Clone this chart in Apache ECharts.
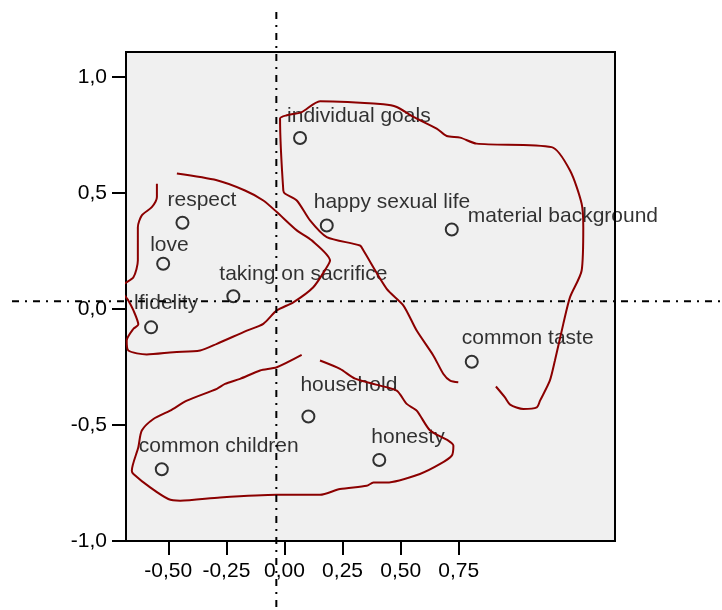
<!DOCTYPE html>
<html><head><meta charset="utf-8">
<script src="https://cdn.jsdelivr.net/npm/echarts@6/dist/echarts.min.js"></script>
<style>html,body{margin:0;padding:0;background:#fff}#c{width:722px;height:610px}</style>
</head><body><div id="c"></div>
<script>
// ---- data ----
const pointNames = ['individual goals','respect','love','taking on sacrifice','happy sexual life','material background','lfidelity','common children','household','common taste','honesty'];
const pointX = [0.067,-0.439,-0.522,-0.220,0.182,0.720,-0.574,-0.528,0.103,0.806,0.408];
const pointY = [0.737,0.372,0.195,0.055,0.360,0.343,-0.079,-0.691,-0.463,-0.227,-0.651];

const xTickValues = [-0.5,-0.25,0,0.25,0.5,0.75];
const xTickLabels = ['-0,50','-0,25','0,00','0,25','0,50','0,75'];
const yTickValues = [-1,-0.5,0,0.5,1];
const yTickLabels = ['-1,0','-0,5','0,0','0,5','1,0'];

const refX = -0.035;
const refY = 0.034;

const contourRight = [[0.748,-0.316],[0.713,-0.309],[0.684,-0.280],[0.641,-0.201],[0.569,-0.093],[0.512,0.015],[0.440,0.087],[0.340,0.252],[0.325,0.274],[0.182,0.310],[0.110,0.382],[0.053,0.468],[0.003,0.497],[-0.005,0.511],[-0.019,0.821],[0.010,0.835],[0.074,0.849],[0.153,0.896],[0.426,0.883],[0.483,0.871],[0.555,0.828],[0.655,0.778],[0.698,0.746],[0.756,0.739],[0.827,0.713],[1.150,0.698],[1.229,0.597],[1.279,0.454],[1.286,0.353],[1.279,0.166],[1.229,0.051],[1.200,-0.064],[1.164,-0.222],[1.142,-0.309],[1.100,-0.395],[1.086,-0.424],[1.028,-0.431],[0.971,-0.412],[0.949,-0.381],[0.910,-0.334]];
const contourLeft = [[-0.549,0.540],[-0.549,0.483],[-0.571,0.439],[-0.614,0.404],[-0.631,0.353],[-0.631,0.209],[-0.650,0.137],[-0.698,0.101],[-0.700,0.080],[-0.672,0.037],[-0.650,-0.006],[-0.629,-0.067],[-0.650,-0.085],[-0.679,-0.136],[-0.672,-0.179],[-0.593,-0.196],[-0.478,-0.186],[-0.363,-0.179],[-0.291,-0.150],[-0.162,-0.093],[-0.091,-0.064],[-0.033,-0.006],[0.038,0.029],[0.124,0.094],[0.182,0.180],[0.196,0.209],[0.117,0.296],[0.053,0.339],[-0.033,0.418],[-0.091,0.468],[-0.170,0.511],[-0.291,0.555],[-0.463,0.584]];
const contourBottom = [[0.153,-0.222],[0.239,-0.258],[0.304,-0.300],[0.394,-0.326],[0.483,-0.352],[0.526,-0.409],[0.569,-0.438],[0.627,-0.524],[0.705,-0.567],[0.727,-0.589],[0.720,-0.632],[0.670,-0.668],[0.583,-0.711],[0.440,-0.748],[0.383,-0.748],[0.354,-0.762],[0.239,-0.776],[0.153,-0.801],[-0.033,-0.801],[-0.277,-0.812],[-0.449,-0.826],[-0.500,-0.819],[-0.578,-0.769],[-0.650,-0.711],[-0.657,-0.697],[-0.629,-0.596],[-0.614,-0.524],[-0.564,-0.474],[-0.492,-0.438],[-0.420,-0.395],[-0.291,-0.344],[-0.256,-0.323],[-0.191,-0.301],[-0.105,-0.265],[-0.033,-0.251],[0.074,-0.198]];

// ---- layout (label offsets in px: text left edge / text middle relative to point) ----
const labelOffsets = {
  'individual goals':[-12,-21],'respect':[-14,-22],'love':[-12,-18],'taking on sacrifice':[-13,-21],
  'happy sexual life':[-12,-22],'material background':[17,-12],'lfidelity':[-16,-23],
  'common children':[-22,-22],'household':[-7,-30],'common taste':[-9,-22],'honesty':[-7,-22]
};

const FONT = 'Liberation Sans, Arial, Helvetica, sans-serif';
const FS = 21;
const SYM = 12;

function fmt(vals, labels){
  return function(v){
    const i = vals.findIndex(t => Math.abs(t - v) < 1e-9);
    return i >= 0 ? labels[i] : '';
  };
}

const chart = echarts.init(document.getElementById('c'));
const scatterData = pointNames.map((n, i) => {
  const o = labelOffsets[n];
  return {
    name: n, value: [pointX[i], pointY[i]],
    label: { position: [SYM/2 + o[0], SYM/2 + o[1]] }
  };
});

const contourStyle = (data) => ({
  type: 'line', data: data, showSymbol: false, symbol: 'none', smooth: 0.25,
  clip: false, z: 5, silent: true,
  lineStyle: { color: '#8b0000', width: 2 }
});

chart.setOption({
  animation: false,
  backgroundColor: '#ffffff',
  grid: { left: 126, right: 107, top: 52, bottom: 69, show: true,
    backgroundColor: '#f0f0f0', borderColor: '#000', borderWidth: 2 },
  xAxis: {
    type: 'value', min: -0.682, max: 1.4225,
    axisLine: { onZero: false, lineStyle: { color: '#000', width: 2 } },
    axisTick: { show: true, length: 14, lineStyle: { color: '#000', width: 2 }, customValues: xTickValues },
    axisLabel: { customValues: xTickValues, formatter: fmt(xTickValues, xTickLabels),
      color: '#000', fontSize: FS, fontFamily: FONT, margin: 20 },
    splitLine: { show: false }
  },
  yAxis: {
    type: 'value', min: -1, max: 1.108,
    axisLine: { onZero: false, lineStyle: { color: '#000', width: 2 } },
    axisTick: { show: true, length: 14, lineStyle: { color: '#000', width: 2 }, customValues: yTickValues },
    axisLabel: { customValues: yTickValues, formatter: fmt(yTickValues, yTickLabels),
      color: '#000', fontSize: FS, fontFamily: FONT, margin: 19 },
    splitLine: { show: false }
  },
  series: [
    {
      type: 'scatter', data: scatterData, symbol: 'circle', symbolSize: SYM, z: 2,
      itemStyle: { color: 'rgba(0,0,0,0)', borderColor: '#000', borderWidth: 2 },
      label: { show: true, formatter: '{b}', align: 'left', verticalAlign: 'middle',
        color: '#000', fontSize: FS, fontFamily: FONT },
      emphasis: { disabled: true }
    },
    contourStyle(contourRight),
    contourStyle(contourLeft),
    contourStyle(contourBottom)
  ]
});

const p = chart.convertToPixel({ gridIndex: 0 }, [refX, refY]);
const dash = { stroke: '#000', lineWidth: 2, lineDash: [7, 6, 2, 6] };
chart.setOption({
  graphic: [
    { type: 'line', z: 100, silent: true, shape: { x1: p[0], y1: 12, x2: p[0], y2: 610 }, style: dash },
    { type: 'line', z: 100, silent: true, shape: { x1: 12, y1: p[1], x2: 722, y2: p[1] }, style: dash }
  ]
});
</script>
</body></html>
